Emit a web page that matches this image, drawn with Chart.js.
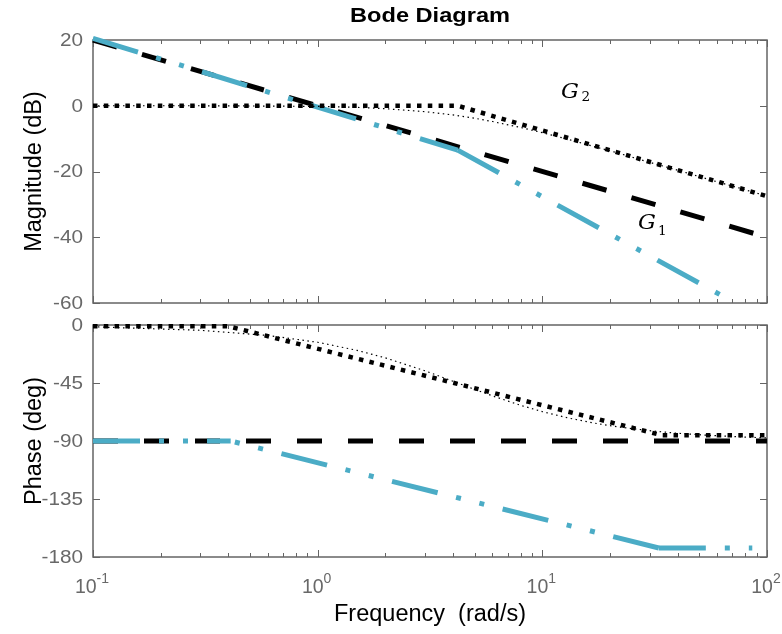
<!DOCTYPE html>
<html><head><meta charset="utf-8">
<script src="https://cdn.jsdelivr.net/npm/chart.js@4/dist/chart.umd.min.js"></script>
<style>
html,body{margin:0;padding:0;background:#fff;}
#wrap{position:relative;width:782px;height:634px;overflow:hidden;}
canvas{position:absolute;left:0;top:0;}
</style></head><body>
<div id="wrap"><canvas id="phase" width="782" height="634"></canvas><canvas id="mag" width="782" height="634"></canvas></div>
<script>
// ---------- data ----------
const freqTicks = [0.1, 1, 10, 100];
const freqTickExp = ['-1', '0', '1', '2'];
const magTicks = [20, 0, -20, -40, -60];
const phaseTicks = [0, -45, -90, -135, -180];

// black dashed (integrator asymptote)
const integFreq = [0.1, 100];
const integMag = [20, -40];
const integPhase = [-90, -90];

// cyan dash-dot (cascade asymptote)
const cascFreq = [0.1, 4.2, 62];
const cascMag = [20.5, -13.5, -57.5];
const cascPhaseFreq = [0.1, 0.41, 33, 86];
const cascPhase = [-90, -90, -173, -173];

// thick dotted (G2 asymptote)
const lagAsymFreq = [0.1, 4.2, 100];
const lagAsymMag = [0, 0, -27.5];
const lagAsymPhaseFreq = [0.1, 0.4, 34, 100];
const lagAsymPhase = [-1, -1, -85.5, -85.5];

// thin dotted (G2 exact)
const lagFreq = [0.1, 0.3, 0.6, 1, 1.5, 2, 3, 4, 5, 6, 8, 10, 13, 17, 22, 30, 40, 55, 75, 100];
const lagMag = [0, 0, -0.1, -0.2, -0.5, -0.9, -1.8, -2.8, -3.8, -4.8, -6.6, -8.2, -10.2, -12.4, -14.5, -17.2, -19.6, -22.4, -25.0, -27.5];
const lagPhase = [-1.4, -4.1, -8.1, -13.4, -19.7, -25.5, -35.5, -43.6, -50.0, -55.0, -62.3, -67.2, -72.1, -76.1, -79.2, -82.0, -84.0, -85.6, -86.8, -87.6];

// ---------- styles ----------
const CYAN = '#4bacc6';
const AX = '#646464';
const TXT = '#686868';
const FONT = '"Liberation Sans", Arial, sans-serif';

function pts(fx, vy) { return fx.map((f, i) => ({ x: f, y: vy[i] })); }
// one dataset per straight segment (dash pattern restarts on each)
function segs(fx, vy, style, reversed) {
  const out = [];
  for (let i = 0; i < fx.length - 1; i++) {
    let d = [{ x: fx[i], y: vy[i] }, { x: fx[i + 1], y: vy[i + 1] }];
    if (reversed && reversed.includes(i)) d = d.reverse();
    out.push(Object.assign({ data: d }, style));
  }
  return out;
}
const base = { showLine: true, pointRadius: 0, pointHoverRadius: 0, tension: 0, clip: false, borderCapStyle: 'butt', borderJoinStyle: 'miter', fill: false };
const sDash = Object.assign({}, base, { borderColor: '#000', borderWidth: 5, borderDash: [25, 26], order: 5 });
const sCyan = Object.assign({}, base, { borderColor: CYAN, borderWidth: 5, borderDash: [47, 19, 5, 19, 5, 19], order: 4 });
const sThin = Object.assign({}, base, { borderColor: '#000', borderWidth: 1.2, borderDash: [1.5, 3.5], order: 3 });
const sDot = Object.assign({}, base, { borderColor: '#000', borderWidth: 4.5, borderDash: [4.5, 6.3], order: 2 });

function txt(ctx, s, x, y, font, color, align, baseline, sx) {
  ctx.save();
  ctx.font = font; ctx.fillStyle = color; ctx.textAlign = align; ctx.textBaseline = baseline;
  ctx.translate(x, y); ctx.scale(sx || 1, 1);
  ctx.fillText(s, 0, 0);
  ctx.restore();
}

function axesPlugin(yTicks, showX, extra) {
  return {
    id: 'axesBox',
    beforeDatasetsDraw(chart) {
      const { ctx, chartArea: a, scales } = chart;
      const x = scales.x, y = scales.y;
      ctx.save();
      ctx.strokeStyle = AX; ctx.lineWidth = 1.5;
      ctx.strokeRect(a.left, a.top, a.right - a.left, a.bottom - a.top);
      ctx.lineWidth = 1;
      ctx.beginPath();
      // log x ticks
      for (let d = 0; d < freqTicks.length; d++) {
        const dec = freqTicks[d];
        for (let k = 1; k <= 9; k++) {
          const v = dec * k;
          if (v > x.max * 1.0001) break;
          const px = Math.round(x.getPixelForValue(v)) + 0.5;
          const L = k === 1 ? 7 : 4;
          ctx.moveTo(px, a.bottom); ctx.lineTo(px, a.bottom - L);
          ctx.moveTo(px, a.top); ctx.lineTo(px, a.top + L);
        }
      }
      yTicks.forEach(v => {
        const py = Math.round(y.getPixelForValue(v)) + 0.5;
        ctx.moveTo(a.left, py); ctx.lineTo(a.left + 7, py);
        ctx.moveTo(a.right, py); ctx.lineTo(a.right - 7, py);
      });
      ctx.stroke();
      ctx.restore();
      // y tick labels
      yTicks.forEach(v => {
        txt(ctx, String(v), a.left - 10, y.getPixelForValue(v) + 1, '18px ' + FONT, TXT, 'right', 'middle', 1.15);
      });
      if (showX) {
        freqTicks.forEach((v, i) => {
          const px = x.getPixelForValue(v);
          ctx.save();
          const bf = '19.5px ' + FONT, sf = '14px ' + FONT;
          ctx.font = bf; const wb = ctx.measureText('10').width;
          ctx.font = sf; const ws = ctx.measureText(freqTickExp[i]).width;
          const left = px - (wb + ws) / 2 - 1;
          ctx.restore();
          txt(ctx, '10', left, 593, bf, TXT, 'left', 'alphabetic', 1);
          txt(ctx, freqTickExp[i], left + wb, 583, sf, TXT, 'left', 'alphabetic', 1);
        });
      }
      if (extra) extra(ctx, a);
    }
  };
}

function makeChart(id, datasets, yMin, yMax, pad, plugin) {
  return new Chart(document.getElementById(id), {
    type: 'scatter',
    data: { datasets: datasets },
    options: {
      responsive: false, animation: false, events: [],
      layout: { padding: pad },
      plugins: { legend: { display: false }, tooltip: { enabled: false }, title: { display: false } },
      scales: {
        x: { type: 'logarithmic', min: 0.1, max: 100, display: false },
        y: { type: 'linear', min: yMin, max: yMax, display: false }
      }
    },
    plugins: [plugin]
  });
}

// ---- magnitude ----
const magSets = [].concat(
  [Object.assign({ data: pts(integFreq, integMag) }, sDash)],
  segs(cascFreq, cascMag, sCyan),
  [Object.assign({ data: pts(lagFreq, lagMag) }, sThin)],
  [Object.assign({ data: pts(lagAsymFreq, lagAsymMag) }, sDot)]
);
makeChart('mag', magSets, -60, 20, { left: 93, right: 15, top: 40, bottom: 331 },
  axesPlugin(magTicks, false, (ctx, a) => {
    txt(ctx, 'Bode Diagram', (a.left + a.right) / 2, 21.5, 'bold 20px ' + FONT, '#000', 'center', 'alphabetic', 1.18);
    ctx.save(); ctx.translate(41, (a.top + a.bottom) / 2); ctx.rotate(-Math.PI / 2);
    txt(ctx, 'Magnitude (dB)', 0, 0, '23.5px ' + FONT, '#000', 'center', 'alphabetic', 1);
    ctx.restore();
    const GF = 'italic 20px "DejaVu Serif", "Liberation Serif", serif';
    const SF = '13px "DejaVu Serif", "Liberation Serif", serif';
    txt(ctx, 'G', 561, 97.5, GF, '#000', 'left', 'alphabetic', 1.12);
    txt(ctx, '2', 581.5, 100.5, SF, '#000', 'left', 'alphabetic', 1.05);
    txt(ctx, 'G', 638, 228.5, GF, '#000', 'left', 'alphabetic', 1.12);
    txt(ctx, '1', 658, 235, SF, '#000', 'left', 'alphabetic', 1.05);
  }));

// ---- phase ----
const phaseSets = [].concat(
  [Object.assign({ data: pts(integFreq, integPhase) }, sDash)],
  segs(cascPhaseFreq, cascPhase, sCyan, [1]),
  [Object.assign({ data: pts(lagFreq, lagPhase) }, sThin)],
  [Object.assign({ data: pts(lagAsymPhaseFreq, lagAsymPhase) }, sDot)]
);
makeChart('phase', phaseSets, -180, 0, { left: 93, right: 15, top: 325, bottom: 77 },
  axesPlugin(phaseTicks, true, (ctx, a) => {
    ctx.save(); ctx.translate(41, (a.top + a.bottom) / 2); ctx.rotate(-Math.PI / 2);
    txt(ctx, 'Phase (deg)', 0, 0, '23.5px ' + FONT, '#000', 'center', 'alphabetic', 1);
    ctx.restore();
    txt(ctx, 'Frequency  (rad/s)', (a.left + a.right) / 2, 621, '23.5px ' + FONT, '#000', 'center', 'alphabetic', 1);
  }));
</script>
</body></html>
